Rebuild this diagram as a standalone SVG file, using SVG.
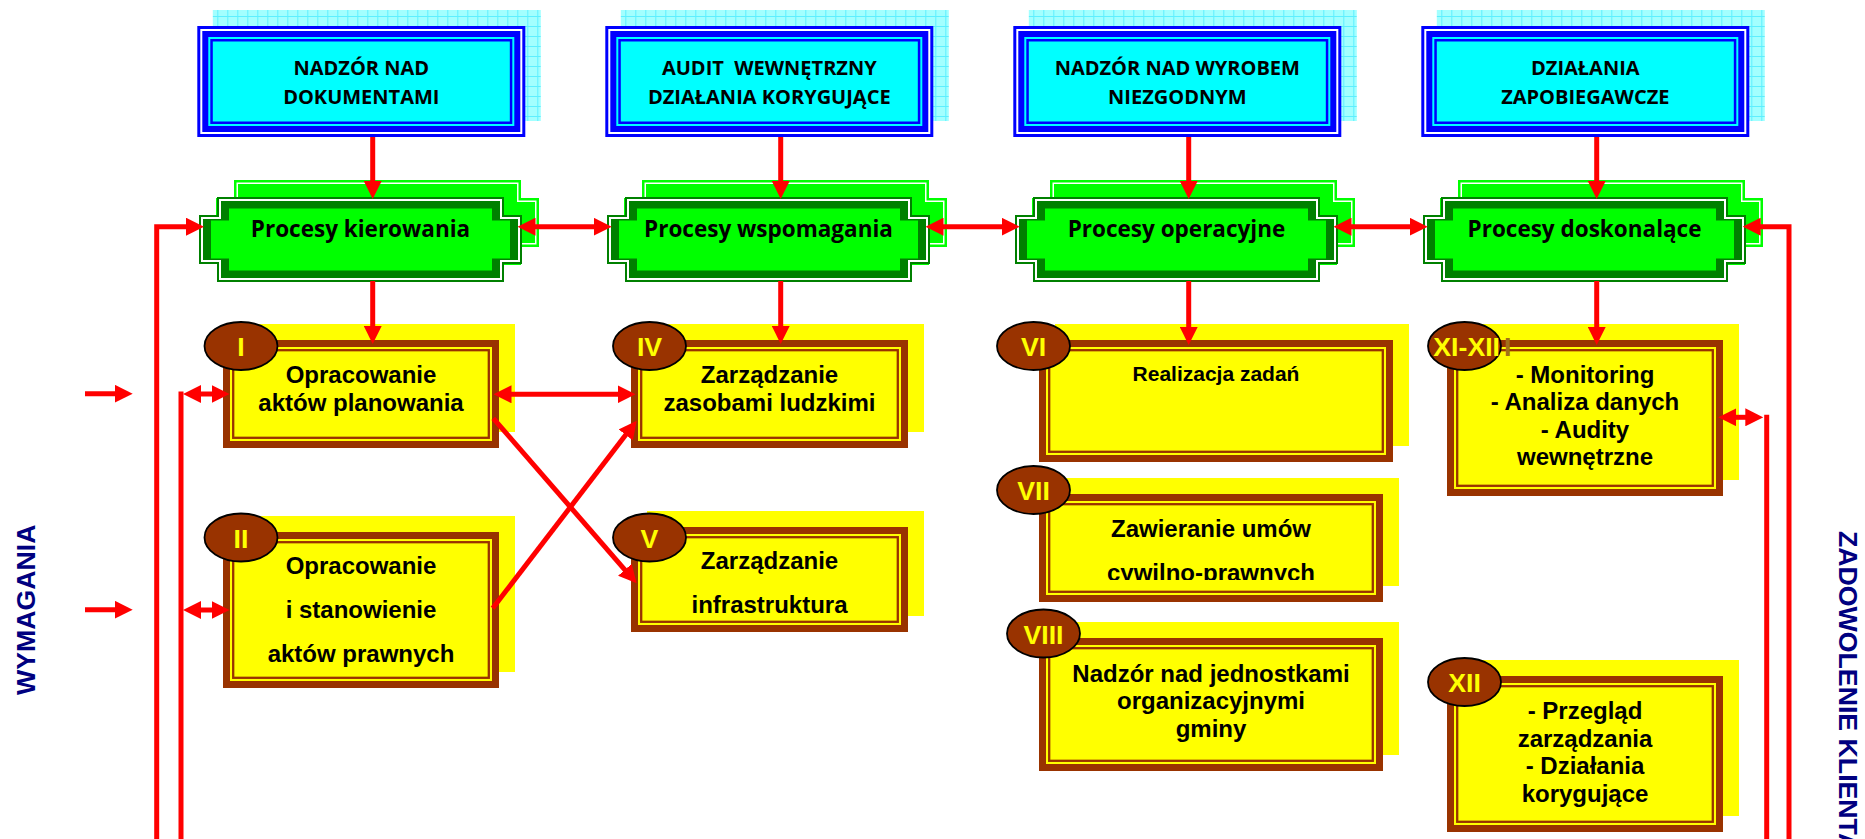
<svg xmlns="http://www.w3.org/2000/svg" width="1865" height="839" viewBox="0 0 1865 839">
<style>
.hdr-t{font-family:"Open Sans","Liberation Sans",sans-serif;font-weight:700;font-size:20px;fill:#000;text-anchor:middle}
.grn-t{font-family:"Open Sans","Liberation Sans",sans-serif;font-weight:700;font-size:22.5px;fill:#000;text-anchor:middle}
.box-t{font-family:"Liberation Sans",Arial,sans-serif;font-weight:700;font-size:24px;fill:#000;text-anchor:middle}
.num-t{font-family:"Liberation Sans",Arial,sans-serif;font-weight:700;font-size:26.7px;fill:#FFFF00;text-anchor:middle}
.side-t{font-family:"Liberation Sans",Arial,sans-serif;font-weight:700;font-size:26.7px;fill:#000080}
.shadow{fill:#FFFF00}
.frame{fill:#FFFF00;stroke:#993300;stroke-width:7}
.inner{fill:none;stroke:#993300;stroke-width:2.3}
.badge{fill:#993300;stroke:#000;stroke-width:1.8}
.conn{stroke:#FF0000;stroke-width:5;fill:none}
.arr{marker-end:url(#ah)}
.arr2{marker-start:url(#ah);marker-end:url(#ah)}
</style>
<defs>
<pattern id="grid" width="10" height="10" patternUnits="userSpaceOnUse">
<rect width="10" height="10" fill="#A3FFFF"/>
<path d="M0 .5H10M.5 0V10" stroke="#5EEFFF" stroke-width="1"/>
</pattern>
<marker id="ah" viewBox="0 -9 18 18" markerWidth="18" markerHeight="18" refX="8" refY="0" orient="auto-start-reverse" markerUnits="userSpaceOnUse">
<path d="M0,-9 L18,0 L0,9 Z" fill="#FF0000"/>
</marker>
<g id="hdrShape">
<rect x="15.5" y="-16" width="328" height="111" fill="url(#grid)"/>
<rect x="0" y="0" width="328" height="111" fill="#0000FF"/>
<rect x="3" y="3" width="322" height="105" fill="#FFFFFF"/>
<rect x="5" y="5" width="318" height="101" fill="#0000FF"/>
<rect x="11" y="11" width="306" height="89" fill="#00FFFF"/>
<rect x="13" y="13" width="302" height="85" fill="#0000FF"/>
<rect x="15.5" y="15.5" width="297" height="80" fill="#00FFFF"/>
</g>
<g id="grnShape">
<g transform="translate(17,-17)">
<path d="M18,0 H305 V18 H323 V67 H305 V85 H18 V67 H0 V18 H18 Z" fill="#00FF00"/>
<path d="M20.5,2.5 H302.5 V20.5 H320.5 V64.5 H302.5 V82.5 H20.5 V64.5 H2.5 V20.5 H20.5 Z" fill="#FFFFFF"/>
<path d="M22,4 H301 V22 H319 V63 H301 V81 H22 V63 H4 V22 H22 Z" fill="#00FF00"/>
</g>
<path d="M18,0 H305 V18 H323 V67 H305 V85 H18 V67 H0 V18 H18 Z" fill="#008000"/>
<path d="M20,2 H303 V20 H321 V65 H303 V83 H20 V65 H2 V20 H20 Z" fill="#FFFFFF"/>
<path d="M22,4 H301 V22 H319 V63 H301 V81 H22 V63 H4 V22 H22 Z" fill="#008000"/>
<path d="M30,11.5 H293 V23.5 H311 V61.5 H293 V73.5 H30 V61.5 H12 V23.5 H30 Z" fill="#00FF00"/>
</g>
<clipPath id="clip7"><rect x="1039" y="494" width="344" height="86"/></clipPath>
</defs>
<rect width="1865" height="839" fill="#FFFFFF"/>

<text id="wymagania" class="side-t" text-anchor="middle" transform="translate(35,609.7) rotate(-90)">WYMAGANIA</text>
<text id="zadowolenie" class="side-t" text-anchor="start" transform="translate(1838.5,531) rotate(90)">ZADOWOLENIE KLIENTA</text>

<g id="hdr-dokumenty">
<use href="#hdrShape" x="197.3" y="26"/>
<text class="hdr-t" x="361.3" y="74.5">NADZÓR NAD</text>
<text class="hdr-t" x="361.3" y="104">DOKUMENTAMI</text>
</g>
<g id="hdr-audit">
<use href="#hdrShape" x="605.3" y="26"/>
<text class="hdr-t" x="769.3" y="74.5" xml:space="preserve">AUDIT  WEWNĘTRZNY</text>
<text class="hdr-t" x="769.3" y="104">DZIAŁANIA KORYGUJĄCE</text>
</g>
<g id="hdr-wyrob">
<use href="#hdrShape" x="1013.3" y="26"/>
<text class="hdr-t" x="1177.3" y="74.5">NADZÓR NAD WYROBEM</text>
<text class="hdr-t" x="1177.3" y="104">NIEZGODNYM</text>
</g>
<g id="hdr-zapobiegawcze">
<use href="#hdrShape" x="1421.3" y="26"/>
<text class="hdr-t" x="1585.3" y="74.5">DZIAŁANIA</text>
<text class="hdr-t" x="1585.3" y="104">ZAPOBIEGAWCZE</text>
</g>

<g id="proc-kierowania">
<use href="#grnShape" x="199" y="197"/>
<text class="grn-t" x="360.5" y="237">Procesy kierowania</text>
</g>
<g id="proc-wspomagania">
<use href="#grnShape" x="607" y="197"/>
<text class="grn-t" x="768.5" y="237">Procesy wspomagania</text>
</g>
<g id="proc-operacyjne">
<use href="#grnShape" x="1015" y="197"/>
<text class="grn-t" x="1176.5" y="237">Procesy operacyjne</text>
</g>
<g id="proc-doskonalace">
<use href="#grnShape" x="1423" y="197"/>
<text class="grn-t" x="1584.5" y="237">Procesy doskonalące</text>
</g>

<g id="box-I">
<rect class="shadow" x="239" y="324" width="276" height="108"/>
<rect class="frame" x="226.5" y="343.5" width="269" height="101"/>
<rect class="inner" x="233.2" y="350.2" width="255.6" height="87.6"/>
<ellipse class="badge" cx="241" cy="346" rx="36.5" ry="24"/>
<text class="num-t" x="241" y="356">I</text>
<text class="box-t" x="361" y="382.7">Opracowanie</text>
<text class="box-t" x="361" y="411">aktów planowania</text>
</g>
<g id="box-II">
<rect class="shadow" x="239" y="516" width="276" height="156"/>
<rect class="frame" x="226.5" y="535.5" width="269" height="149"/>
<rect class="inner" x="233.2" y="542.2" width="255.6" height="135.6"/>
<ellipse class="badge" cx="241" cy="537.5" rx="36.5" ry="24"/>
<text class="num-t" x="241" y="547.5">II</text>
<text class="box-t" x="361" y="574.3">Opracowanie</text>
<text class="box-t" x="361" y="618.3">i stanowienie</text>
<text class="box-t" x="361" y="661.7">aktów prawnych</text>
</g>
<g id="box-IV">
<rect class="shadow" x="647" y="324" width="277" height="108"/>
<rect class="frame" x="634.5" y="343.5" width="270" height="101"/>
<rect class="inner" x="641.2" y="350.2" width="256.6" height="87.6"/>
<ellipse class="badge" cx="649.5" cy="346" rx="36.5" ry="24"/>
<text class="num-t" x="649.5" y="356">IV</text>
<text class="box-t" x="769.5" y="382.7">Zarządzanie</text>
<text class="box-t" x="769.5" y="411">zasobami ludzkimi</text>
</g>
<g id="box-V">
<rect class="shadow" x="647" y="511" width="277" height="105"/>
<rect class="frame" x="634.5" y="530.5" width="270" height="98"/>
<rect class="inner" x="641.2" y="537.2" width="256.6" height="84.6"/>
<ellipse class="badge" cx="649.5" cy="537.5" rx="36.5" ry="24"/>
<text class="num-t" x="649.5" y="547.5">V</text>
<text class="box-t" x="769.5" y="569.3">Zarządzanie</text>
<text class="box-t" x="769.5" y="613.3">infrastruktura</text>
</g>
<g id="box-VI">
<rect class="shadow" x="1055" y="324" width="354" height="122"/>
<rect class="frame" x="1042.5" y="343.5" width="347" height="115"/>
<rect class="inner" x="1049.2" y="350.2" width="333.6" height="101.6"/>
<ellipse class="badge" cx="1033.5" cy="346" rx="36.5" ry="24"/>
<text class="num-t" x="1033.5" y="356">VI</text>
<text class="box-t" x="1216" y="381" style="font-size:21px">Realizacja zadań</text>
</g>
<g id="box-VII">
<rect class="shadow" x="1055" y="478" width="344" height="108"/>
<rect class="frame" x="1042.5" y="497.5" width="337" height="101"/>
<rect class="inner" x="1049.2" y="504.2" width="323.6" height="87.6"/>
<ellipse class="badge" cx="1033.5" cy="490" rx="36.5" ry="24"/>
<text class="num-t" x="1033.5" y="500">VII</text>
<g clip-path="url(#clip7)">
<text class="box-t" x="1211" y="537">Zawieranie umów</text>
<text class="box-t" x="1211" y="581">cywilno-prawnych</text>
</g>
</g>
<g id="box-VIII">
<rect class="shadow" x="1055" y="622" width="344" height="133"/>
<rect class="frame" x="1042.5" y="641.5" width="337" height="126"/>
<rect class="inner" x="1049.2" y="648.2" width="323.6" height="112.6"/>
<ellipse class="badge" cx="1043.5" cy="633.5" rx="36.5" ry="24"/>
<text class="num-t" x="1043.5" y="643.5">VIII</text>
<text class="box-t" x="1211" y="681.7">Nadzór nad jednostkami</text>
<text class="box-t" x="1211" y="709.2">organizacyjnymi</text>
<text class="box-t" x="1211" y="736.7">gminy</text>
</g>
<g id="box-XI-XII">
<rect class="shadow" x="1463" y="324" width="276" height="156"/>
<rect class="frame" x="1450.5" y="343.5" width="269" height="149"/>
<rect class="inner" x="1457.2" y="350.2" width="255.6" height="135.6"/>
<ellipse class="badge" cx="1464.5" cy="346" rx="36.5" ry="24"/>
<text class="num-t" x="1433.3" y="356" style="text-anchor:start">XI-XII<tspan dx="4" fill="#A0701A">I</tspan></text>
<text class="box-t" x="1585" y="382.7">- Monitoring</text>
<text class="box-t" x="1585" y="410.2">- Analiza danych</text>
<text class="box-t" x="1585" y="437.7">- Audity</text>
<text class="box-t" x="1585" y="465.2">wewnętrzne</text>
</g>
<g id="box-XII">
<rect class="shadow" x="1463" y="660" width="276" height="156"/>
<rect class="frame" x="1450.5" y="679.5" width="269" height="149"/>
<rect class="inner" x="1457.2" y="686.2" width="255.6" height="135.6"/>
<ellipse class="badge" cx="1464.5" cy="682" rx="36.5" ry="24"/>
<text class="num-t" x="1464.5" y="692">XII</text>
<text class="box-t" x="1585" y="719.3">- Przegląd</text>
<text class="box-t" x="1585" y="746.8">zarządzania</text>
<text class="box-t" x="1585" y="774.3">- Działania</text>
<text class="box-t" x="1585" y="801.8">korygujące</text>
</g>

<g id="connectors">
<line class="conn arr" x1="372.7" y1="137" x2="372.7" y2="189"/>
<line class="conn arr" x1="780.7" y1="137" x2="780.7" y2="189"/>
<line class="conn arr" x1="1188.7" y1="137" x2="1188.7" y2="189"/>
<line class="conn arr" x1="1596.7" y1="137" x2="1596.7" y2="189"/>
<line class="conn arr" x1="372.7" y1="281" x2="372.7" y2="334"/>
<line class="conn arr" x1="780.7" y1="281" x2="780.7" y2="334"/>
<line class="conn arr" x1="1188.7" y1="281" x2="1188.7" y2="335"/>
<line class="conn arr" x1="1596.7" y1="281" x2="1596.7" y2="335"/>
<line class="conn arr2" x1="527.5" y1="226.7" x2="601.7" y2="226.7"/>
<line class="conn arr2" x1="935.5" y1="226.7" x2="1009.7" y2="226.7"/>
<line class="conn arr2" x1="1343.5" y1="226.7" x2="1417.7" y2="226.7"/>
<path class="conn arr" d="M156.7,845 V226.7 H194"/>
<path class="conn arr" d="M1789,845 V226.7 H1752.7"/>
<path class="conn" d="M181,845 V391.5"/>
<line class="conn arr2" x1="193" y1="394" x2="219.5" y2="394"/>
<line class="conn arr2" x1="193" y1="610" x2="219.5" y2="610"/>
<line class="conn arr" x1="85" y1="393.7" x2="122.7" y2="393.7"/>
<line class="conn arr" x1="85" y1="609.7" x2="122.7" y2="609.7"/>
<line class="conn arr2" x1="503.5" y1="394.3" x2="625.5" y2="394.3"/>
<line class="conn arr" x1="493.3" y1="418.3" x2="630.1" y2="575.8"/>
<line class="conn arr" x1="492.7" y1="608.3" x2="630.6" y2="428.6"/>
<path class="conn" d="M1766.7,414.8 V845"/>
<line class="conn arr2" x1="1728.3" y1="417.3" x2="1753.3" y2="417.3"/>
</g>
</svg>
